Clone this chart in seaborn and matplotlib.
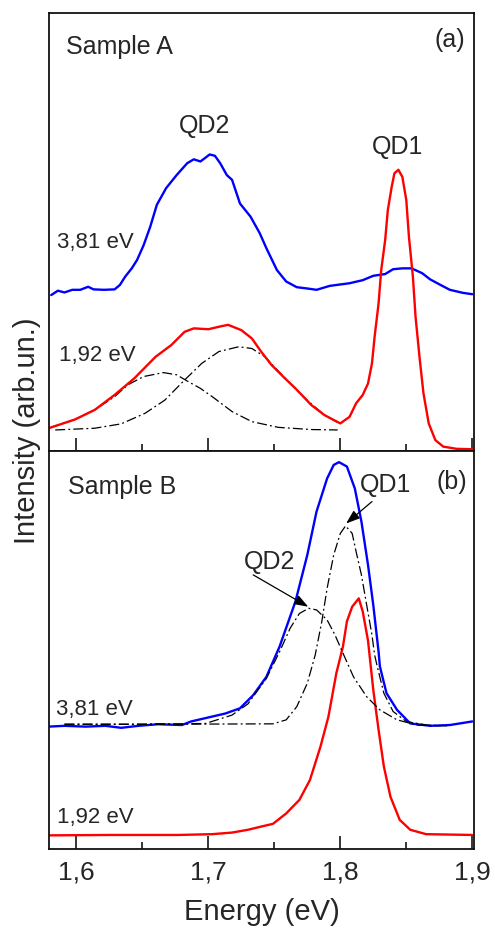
import matplotlib
matplotlib.use("Agg")
import matplotlib.pyplot as plt
import seaborn as sns
import pandas as pd
from matplotlib.ticker import FixedLocator, MultipleLocator

# ---------------- data: panel (a) Sample A ----------------
a_blue_e = [1.581,1.586,1.591,1.597,1.603,1.609,1.613,1.621,1.629,1.633,
            1.637,1.642,1.646,1.651,1.656,1.661,1.668,1.676,1.684,1.689,
            1.694,1.698,1.701,1.705,1.709,1.714,1.718,1.724,1.732,1.739,
            1.744,1.752,1.759,1.767,1.775,1.782,1.792,
            1.807,1.817,1.825,1.834,1.840,1.847,1.854,1.862,1.868,1.876,1.883,1.893,1.900]
a_blue_i = [35.6,36.6,36.2,36.8,36.8,37.5,36.9,36.8,36.9,37.9,
            39.8,41.7,43.6,47.0,51.2,56.2,60.0,63.0,65.7,66.6,
            66.1,67.0,67.7,67.4,65.7,63.0,61.9,56.5,53.5,49.7,
            46.3,41.3,38.7,37.4,37.1,36.8,37.7,
            38.3,39.0,40.0,40.4,41.5,41.7,41.7,40.6,39.2,37.9,36.8,36.1,35.8]

a_red_e = [1.580,1.599,1.614,1.629,1.644,1.660,1.672,1.682,1.689,1.700,
           1.710,1.715,1.725,1.733,1.740,1.748,1.758,1.766,1.778,1.788,
           1.800,1.807,1.812,1.817,1.821,1.824,1.826,1.829,1.831,1.834,
           1.836,1.839,1.841,1.844,1.847,1.850,1.852,1.855,1.857,1.860,
           1.863,1.867,1.872,1.878,1.888,1.900]
a_red_i = [5.3,7.2,9.4,12.8,16.6,21.5,24.2,27.2,28.0,27.8,
           28.5,28.8,27.6,25.7,22.7,19.6,16.6,14.3,10.5,8.2,
           6.3,7.8,10.9,12.8,15.4,20.0,26.1,33.7,41.3,48.2,
           55.0,60.4,63.4,64.2,62.6,57.3,48.9,39.8,30.7,21.5,
           13.2,6.3,2.5,1.0,0.5,0.4]

a_fit1_e = [1.580,1.599,1.614,1.629,1.639,1.651,1.666,1.676,1.685,1.694,
            1.703,1.718,1.733,1.753,1.778,1.798]
a_fit1_i = [5.3,7.2,9.4,12.4,15.1,17.0,17.9,17.4,15.8,14.3,
            12.4,9.0,6.7,5.4,4.9,4.8]

a_fit2_e = [1.584,1.614,1.634,1.652,1.667,1.682,1.695,1.708,1.723,1.733,
            1.743,1.751,1.763,1.776,1.788,1.798]
a_fit2_i = [4.8,5.2,6.2,8.6,11.6,16.2,20.0,22.7,23.8,23.4,
            21.5,18.9,15.1,11.3,8.2,6.5]

# ---------------- data: panel (b) Sample B ----------------
b_blue_e = [1.579,1.591,1.607,1.622,1.634,1.647,1.662,1.680,1.687,1.700,
            1.713,1.724,1.734,1.744,1.754,1.766,1.775,1.782,1.790,1.795,
            1.799,1.805,1.811,1.816,1.821,1.825,1.829,1.830,1.835,1.843,
            1.853,1.868,1.883,1.900]
b_blue_i = [30.8,31.0,30.8,31.0,30.5,31.0,31.4,31.2,32.1,33.1,
            34.1,35.4,38.7,43.3,50.9,62.2,73.9,84.8,93.1,96.5,
            97.2,96.1,90.6,82.3,71.4,61.3,49.6,45.9,39.2,35.0,
            31.6,31.0,31.2,32.1]

b_red_e = [1.579,1.627,1.677,1.703,1.718,1.730,1.740,1.749,1.759,1.769,
           1.777,1.785,1.791,1.797,1.802,1.805,1.809,1.814,1.817,1.821,
           1.825,1.829,1.833,1.838,1.845,1.853,1.865,1.900]
b_red_i = [3.5,3.6,3.6,3.8,4.2,4.9,5.7,6.4,9.0,12.4,
           17.4,25.8,33.3,44.2,50.9,57.2,60.9,63.0,59.7,52.4,
           40.0,30.0,20.8,13.2,7.4,4.9,3.8,3.6]

b_qd2_e = [1.591,1.643,1.681,1.698,1.718,1.730,1.744,1.754,1.762,1.769,
           1.776,1.782,1.790,1.796,1.801,1.810,1.820,1.830,1.843,1.858,1.876]
b_qd2_i = [31.4,31.4,31.5,31.6,33.7,36.5,42.9,49.6,55.5,59.2,
           60.5,60.1,57.6,53.8,50.0,43.3,38.3,35.0,32.5,31.2,31.0]

b_qd1_e = [1.591,1.668,1.749,1.759,1.767,1.775,1.781,1.786,1.790,1.795,
           1.800,1.804,1.809,1.812,1.816,1.820,1.824,1.826,1.828,1.833,
           1.840,1.850,1.865,1.881]
b_qd1_i = [31.4,31.4,31.5,32.5,35.8,41.7,48.8,57.2,65.5,73.9,
           79.3,81.2,79.3,74.7,68.9,61.3,53.8,48.8,45.9,39.2,
           34.6,32.1,31.2,31.0]

x_ticks = [1.6, 1.7, 1.8, 1.9]
x_ticklabels = ["1,6", "1,7", "1,8", "1,9"]

# ---------------- styling ----------------
sns.set_theme(style="white")
plt.rcParams['font.family'] = ['Liberation Sans', 'DejaVu Sans']

BLUE = "#0000ff"
RED = "#ff0000"
DASHDOT = (0, (8, 2.5, 1.5, 2.5))

fig = plt.figure(figsize=(4.95, 9.32), dpi=100)
W, H = 495.0, 932.0
left, right = 49 / W, 474 / W
ax_a = fig.add_axes([left, 1 - 451 / H, right - left, (451 - 13) / H])
ax_b = fig.add_axes([left, 1 - 849.3 / H, right - left, (849.3 - 451) / H])

def line(ax, e, i, color, lw, ls="-"):
    df = pd.DataFrame({"e": e, "i": i})
    sns.lineplot(data=df, x="e", y="i", ax=ax, color=color, linewidth=lw,
                 linestyle=ls, sort=False, estimator=None)

line(ax_a, a_fit1_e, a_fit1_i, "black", 0.9, DASHDOT)
line(ax_a, a_fit2_e, a_fit2_i, "black", 0.9, DASHDOT)
line(ax_a, a_blue_e, a_blue_i, BLUE, 1.7)
line(ax_a, a_red_e, a_red_i, RED, 1.7)

line(ax_b, b_blue_e, b_blue_i, BLUE, 1.7)
line(ax_b, b_red_e, b_red_i, RED, 1.7)
line(ax_b, b_qd2_e, b_qd2_i, "black", 0.9, DASHDOT)
line(ax_b, b_qd1_e, b_qd1_i, "black", 0.9, DASHDOT)

for ax in (ax_a, ax_b):
    ax.set_xlim(1.5793, 1.9013)
    ax.set_ylim(0, 100)
    ax.set_xlabel("")
    ax.set_ylabel("")
    ax.set_yticks([])
    ax.xaxis.set_major_locator(FixedLocator(x_ticks))
    ax.xaxis.set_minor_locator(MultipleLocator(0.05))
    ax.tick_params(axis="x", which="major", direction="in", length=9.4, width=1.1,
                   color="black", bottom=True, top=False, labelsize=19, pad=8)
    ax.tick_params(axis="x", which="minor", direction="in", length=5.2, width=1.1,
                   color="black", bottom=True, top=False)
    for s in ax.spines.values():
        s.set_color("#111111")
        s.set_linewidth(1.3)

ax_a.set_xticklabels([])
ax_b.set_xticklabels(x_ticklabels)
ax_b.set_xlabel("Energy (eV)", fontsize=21, labelpad=10)
fig.text(27 / W, 1 - 431 / H, "Intensity (arb.un.)", rotation=90, fontsize=21,
         ha="center", va="center")

fs = 18
# panel (a) texts
ax_a.text(0.040, 0.922, "Sample A", transform=ax_a.transAxes, fontsize=fs, ha="left", va="center")
ax_a.text(0.979, 0.938, "(a)", transform=ax_a.transAxes, fontsize=fs, ha="right", va="center")
ax_a.text(0.367, 0.742, "QD2", transform=ax_a.transAxes, fontsize=fs, ha="center", va="center")
ax_a.text(0.821, 0.694, "QD1", transform=ax_a.transAxes, fontsize=fs, ha="center", va="center")
ax_a.text(0.019, 0.477, "3,81 eV", transform=ax_a.transAxes, fontsize=16, ha="left", va="center")
ax_a.text(0.024, 0.217, "1,92 eV", transform=ax_a.transAxes, fontsize=16, ha="left", va="center")

# panel (b) texts
ax_b.text(0.045, 0.910, "Sample B", transform=ax_b.transAxes, fontsize=fs, ha="left", va="center")
ax_b.text(0.984, 0.922, "(b)", transform=ax_b.transAxes, fontsize=fs, ha="right", va="center")
ax_b.text(0.016, 0.350, "3,81 eV", transform=ax_b.transAxes, fontsize=16, ha="left", va="center")
ax_b.text(0.019, 0.081, "1,92 eV", transform=ax_b.transAxes, fontsize=16, ha="left", va="center")

arrowprops = dict(arrowstyle="-|>,head_length=0.7,head_width=0.25", color="black",
                  lw=0.9, shrinkA=0, shrinkB=0)
ax_b.text(1.7465, 72.2, "QD2", fontsize=fs, ha="center", va="center")
ax_b.annotate("", xy=(1.7757, 60.9), xytext=(1.7340, 68.9), arrowprops=arrowprops)
ax_b.text(1.8345, 91.5, "QD1", fontsize=fs, ha="center", va="center")
ax_b.annotate("", xy=(1.8044, 81.8), xytext=(1.8240, 87.3), arrowprops=arrowprops)

fig.savefig("out.png", dpi=100)
